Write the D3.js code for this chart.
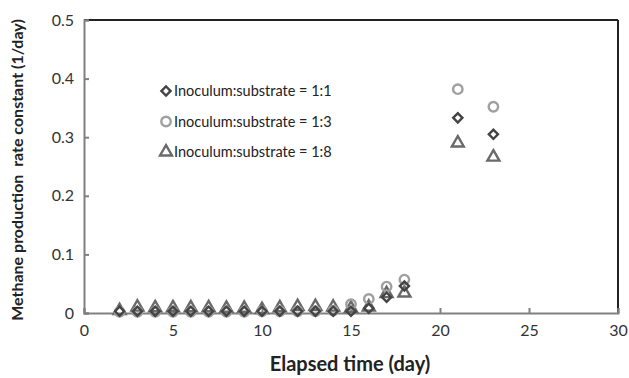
<!DOCTYPE html>
<html><head><meta charset="utf-8">
<script src="https://cdn.jsdelivr.net/npm/d3@7"></script>
<style>body{margin:0;background:#fff}</style>
</head><body><svg id="c" width="629" height="378"></svg>
<script>
const seriesNames = ["Inoculum:substrate = 1:1","Inoculum:substrate = 1:3","Inoculum:substrate = 1:8"];
const days = [2,3,4,5,6,7,8,9,10,11,12,13,14,15,16,17,18,21,23];
const ratio11 = [0.003,0.003,0.003,0.003,0.003,0.003,0.003,0.003,0.003,0.003,0.003,0.003,0.003,0.003,0.008,0.027,0.046,0.333,0.305];
const ratio13 = [0.002,0.002,0.002,0.002,0.002,0.002,0.002,0.002,0.003,0.003,0.003,0.003,0.004,0.015,0.024,0.045,0.057,0.382,0.352];
const ratio18 = [0.004,0.01,0.009,0.009,0.009,0.009,0.008,0.008,0.006,0.009,0.011,0.011,0.01,0.008,0.01,0.033,0.034,0.29,0.266];
const xTicks = [0,5,10,15,20,25,30];
const yTicks = [0,0.1,0.2,0.3,0.4,0.5];

const svg = d3.select("#c");
const x = d3.scaleLinear().domain([0,30]).range([84,618]);
const y = d3.scaleLinear().domain([0,0.5]).range([313,20]);
const font = "Lato, 'Open Sans', sans-serif";

svg.append("line").attr("x1",x(0)).attr("x2",x(30)).attr("y1",y(0.5)).attr("y2",y(0.5)).attr("stroke","#222").attr("stroke-width",2);
svg.append("line").attr("x1",x(30)).attr("x2",x(30)).attr("y1",y(0.5)).attr("y2",y(0)).attr("stroke","#222").attr("stroke-width",2);

const xAxis = svg.append("g").attr("transform",`translate(0,${y(0)})`)
  .call(d3.axisBottom(x).tickValues(xTicks).tickSize(-5).tickPadding(12).tickFormat(d3.format("d")));
const yAxis = svg.append("g").attr("transform",`translate(${x(0)},0)`)
  .call(d3.axisLeft(y).tickValues(yTicks).tickSize(-5).tickPadding(10).tickFormat(d=> d===0?"0":d3.format(".1f")(d)));
[xAxis,yAxis].forEach(g=>{
  g.select(".domain").attr("stroke","#808080").attr("stroke-width",2);
  g.selectAll(".tick line").attr("stroke","#808080").attr("stroke-width",2);
  g.selectAll("text").attr("font-family",font).attr("font-size",16).attr("fill","#333");
});

const sym = d3.symbol();
const styles = [
  {type:d3.symbolSquare, rot:45, color:"#444", size:42},
  {type:d3.symbolCircle, rot:0, color:"#a0a0a0", size:70},
  {type:d3.symbolTriangle, rot:0, color:"#6a6a6a", size:62}
];
const data = [ratio11, ratio13, ratio18];
[2,1,0].forEach(i=>{
  const s = styles[i];
  svg.append("g").selectAll("path").data(days.map((d,j)=>({d, v:data[i][j]})))
    .join("path")
    .attr("transform",p=>`translate(${x(p.d)},${y(p.v)}) rotate(${s.rot})`)
    .attr("d",sym.type(s.type).size(s.size)())
    .attr("fill","none").attr("stroke",s.color).attr("stroke-width",2.4);
});

const leg = svg.append("g");
seriesNames.forEach((n,i)=>{
  const s = styles[i];
  const ly = 91 + i*30.5;
  leg.append("path").attr("transform",`translate(166,${ly}) rotate(${s.rot})`)
    .attr("d",sym.type(s.type).size(s.size)()).attr("fill","none").attr("stroke",s.color).attr("stroke-width",2.4);
  leg.append("text").attr("x",174).attr("y",ly+5).text(n)
    .attr("font-family",font).attr("font-size",14.5).attr("fill","#222");
});

svg.append("text").attr("x",350).attr("y",371).attr("text-anchor","middle")
  .attr("font-family",font).attr("font-weight","bold").attr("font-size",20).attr("fill","#222").text("Elapsed time (day)");
svg.append("text").attr("transform","translate(23,170) rotate(-90)").attr("text-anchor","middle")
  .style("white-space","pre")
  .attr("font-family",font).attr("font-weight","bold").attr("font-size",16).attr("fill","#222").text("Methane production  rate constant (1/day)");
</script></body></html>
